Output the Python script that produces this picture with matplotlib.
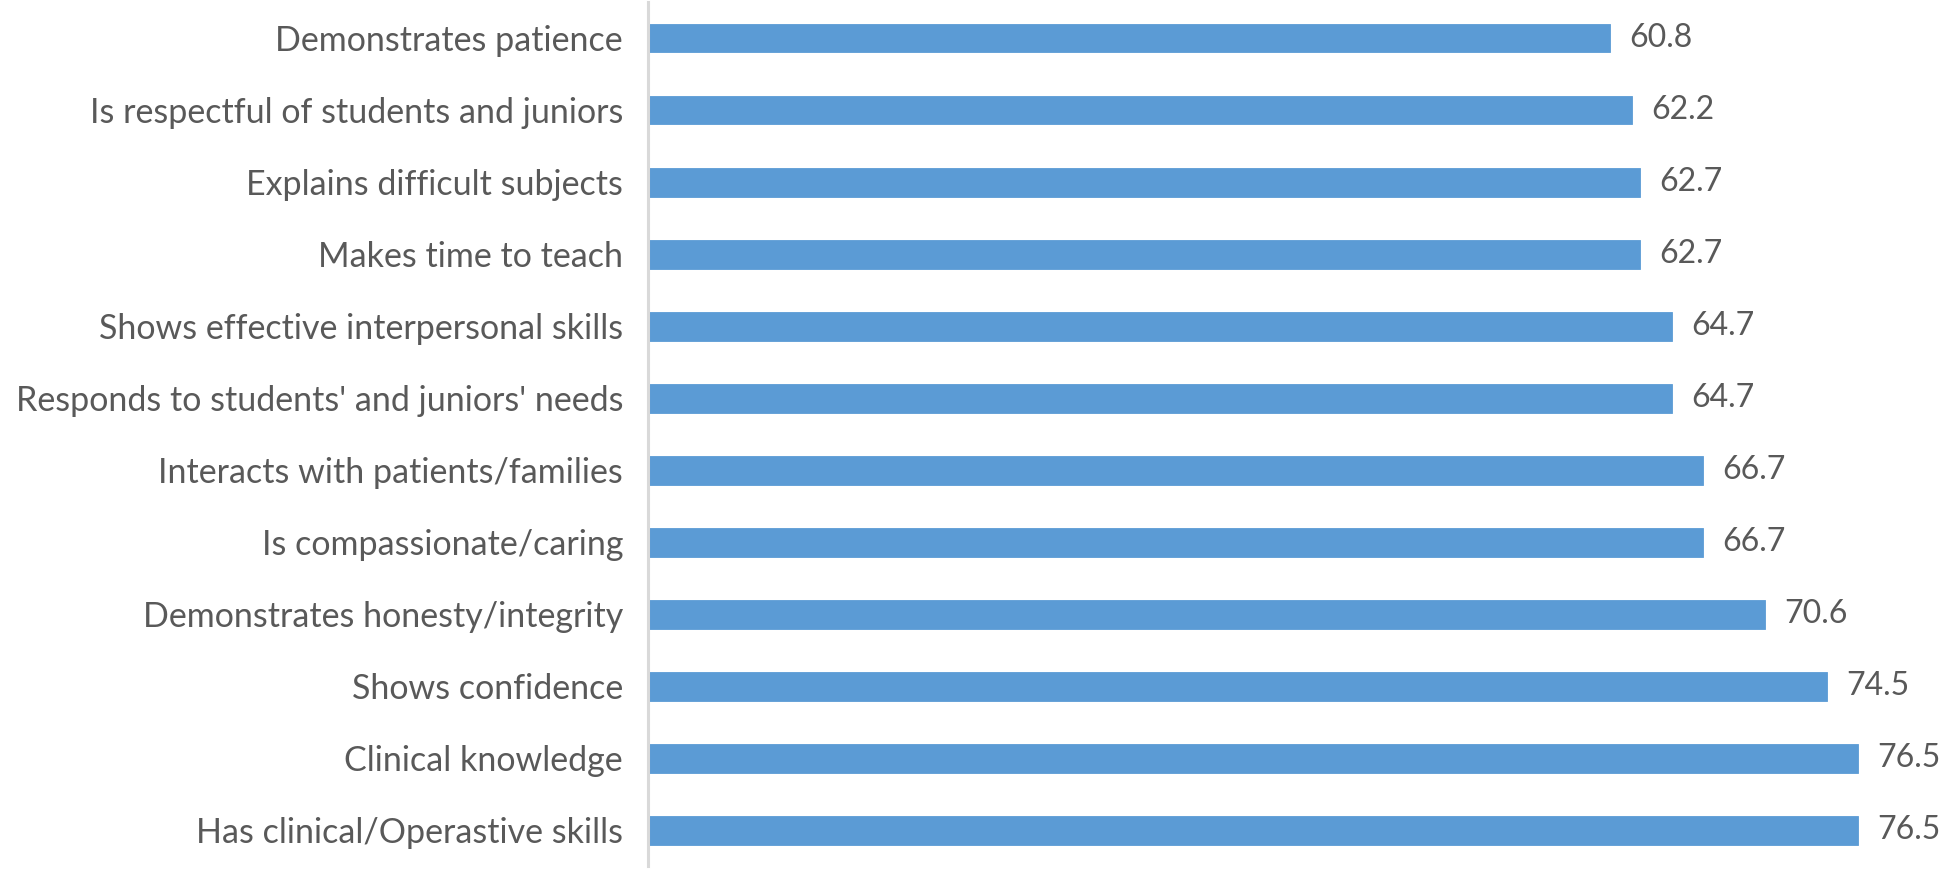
import matplotlib
matplotlib.use("Agg")
import matplotlib.pyplot as plt

categories = [
    "Demonstrates patience",
    "Is respectful of students and juniors",
    "Explains difficult subjects",
    "Makes time to teach",
    "Shows effective interpersonal skills",
    "Responds to students' and juniors' needs",
    "Interacts with patients/families",
    "Is compassionate/caring",
    "Demonstrates honesty/integrity",
    "Shows confidence",
    "Clinical knowledge",
    "Has clinical/Operastive skills",
]
values = [60.8, 62.2, 62.7, 62.7, 64.7, 64.7, 66.7, 66.7, 70.6, 74.5, 76.5, 76.5]
value_labels = ["60.8", "62.2", "62.7", "62.7", "64.7", "64.7", "66.7", "66.7", "70.6", "74.5", "76.5", "76.5"]

plt.rcParams['font.family'] = ['Lato', 'DejaVu Sans']
text_color = "#595959"

W, H = 1944, 869
fig = plt.figure(figsize=(W / 100, H / 100), dpi=100)
left_px = 648
px_per_unit = 15.82
xmax = 80
ax = fig.add_axes([left_px / W, 2.5 / H, xmax * px_per_unit / W, 864.5 / H])

ypos = list(range(len(categories)))
bars = ax.barh(ypos, values, height=0.4, color="#5b9bd5", edgecolor="#5b9bd5", linewidth=0.6)
ax.set_ylim(len(categories) - 0.5, -0.5)
ax.set_xlim(0, xmax)
ax.set_yticks(ypos)
ax.set_yticklabels(categories, fontsize=24.5, color=text_color)
ax.tick_params(axis='y', length=0, pad=18)
ax.set_xticks([])
for s in ["top", "right", "bottom"]:
    ax.spines[s].set_visible(False)
ax.spines["left"].set_color("#d9d9d9")
ax.spines["left"].set_linewidth(2.2)

for b, lab in zip(bars, value_labels):
    ax.annotate(lab, xy=(b.get_width(), b.get_y() + b.get_height() / 2),
                xytext=(14, 0), textcoords="offset points",
                va="center", ha="left", fontsize=23, color=text_color,
                annotation_clip=False)

fig.savefig("out.png", dpi=100)
